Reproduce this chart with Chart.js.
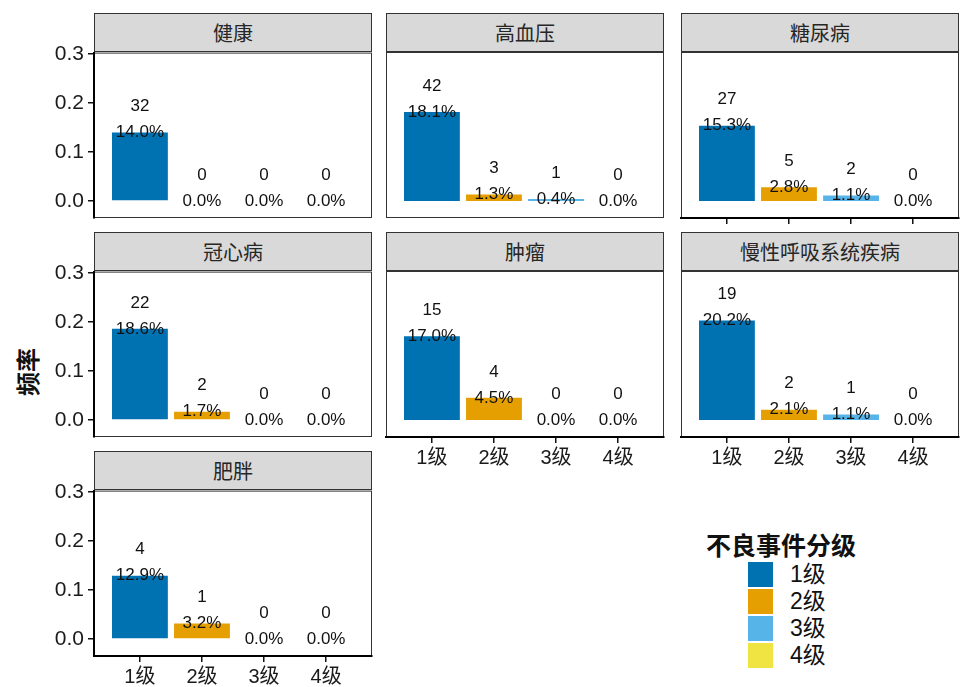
<!DOCTYPE html>
<html>
<head>
<meta charset="utf-8">
<script src="https://cdn.jsdelivr.net/npm/chart.js@4.4.1/dist/chart.umd.min.js"></script>
<style>
  body { margin: 0; background: #fff; width: 963px; height: 687px; position: relative; overflow: hidden;
         font-family: 'Liberation Sans', 'Noto Sans CJK SC', sans-serif; }
  .strip { position: absolute; box-sizing: border-box; background: #d9d9d9; border: 1px solid #333;
           text-align: center; font-size: 20px; line-height: 37px; color: #262626;
           font-family: 'Noto Sans CJK SC', sans-serif; }
  canvas { position: absolute; }
  #ytitle { position: absolute; left: 26px; top: 372px; transform: translate(-50%, -50%) rotate(-90deg);
            font-size: 24px; font-weight: bold; white-space: nowrap; font-family: 'Noto Sans CJK SC', sans-serif; color: #111; }
  #legend { position: absolute; left: 706px; top: 527px; }
  #legend .title { font-size: 25px; font-weight: bold; font-family: 'Noto Sans CJK SC', sans-serif; color: #111;
                   line-height: 34px; white-space: nowrap; }
  #legend .item { position: relative; height: 27px; margin-left: 42px; }
  #legend .key { position: absolute; left: 0; top: 1px; width: 25px; height: 25px; }
  #legend .lab { position: absolute; left: 42px; top: 0; font-size: 23px; line-height: 27px; color: #111; }
</style>
</head>
<body>
<div id="ytitle">频率</div>
<div id="legend"></div>
<script>
// --- DATA ---
const grades = ["1级", "2级", "3级", "4级"];
const gradeColors = ["#0072B2", "#E69F00", "#56B4E9", "#F0E442"];
const diseases = ["健康", "高血压", "糖尿病", "冠心病", "肿瘤", "慢性呼吸系统疾病", "肥胖"];
const counts = [
  [32, 0, 0, 0],
  [42, 3, 1, 0],
  [27, 5, 2, 0],
  [22, 2, 0, 0],
  [15, 4, 0, 0],
  [19, 2, 1, 0],
  [4, 1, 0, 0]
];
const percents = [
  [14.0, 0.0, 0.0, 0.0],
  [18.1, 1.3, 0.4, 0.0],
  [15.3, 2.8, 1.1, 0.0],
  [18.6, 1.7, 0.0, 0.0],
  [17.0, 4.5, 0.0, 0.0],
  [20.2, 2.1, 1.1, 0.0],
  [12.9, 3.2, 0.0, 0.0]
];
const yTicks = [0, 0.1, 0.2, 0.3];

// --- LAYOUT ---
const colLeft = [94, 386, 681];
const stripTop = [13, 232, 451];
const PW = 278, STRIP_H = 39, PH = 166;
const AX_W = 75, AX_H = 44, PAD = 16;
const FONT = "'Liberation Sans', 'Noto Sans CJK SC', sans-serif";

// frame around each panel
const framePlugin = {
  id: "frame",
  beforeDraw(chart) {
    const a = chart.chartArea, c = chart.ctx;
    c.save();
    c.strokeStyle = "#333";
    c.lineWidth = 1;
    c.strokeRect(a.left + 0.5, a.top + 0.5, a.right - a.left - 1, a.bottom - a.top - 1);
    c.restore();
  }
};

// count + percent labels above the bars
const labelPlugin = {
  id: "barLabels",
  afterDatasetsDraw(chart) {
    const i = chart.options.plugins.barLabels.panel;
    const xs = chart.scales.x, ys = chart.scales.y, c = chart.ctx;
    c.save();
    c.font = "17px " + FONT;
    c.fillStyle = "#111";
    c.textAlign = "center";
    c.textBaseline = "middle";
    percents[i].forEach((p, k) => {
      const x = xs.getPixelForValue(k + 1);
      const y = ys.getPixelForValue(p / 100);
      c.fillText(p.toFixed(1) + "%", x, y);
      c.fillText(String(counts[i][k]), x, y - 26);
    });
    c.restore();
  }
};

function makePanel(i) {
  const col = i % 3, row = Math.floor(i / 3);
  const left = colLeft[col], top = stripTop[row];
  const showY = col === 0;
  const showXLabels = i >= 4;
  const showXTicks = showXLabels || i === 2;

  const strip = document.createElement("div");
  strip.className = "strip";
  strip.style.left = left + "px";
  strip.style.top = top + "px";
  strip.style.width = PW + "px";
  strip.style.height = STRIP_H + "px";
  strip.textContent = diseases[i];
  document.body.appendChild(strip);

  const cv = document.createElement("canvas");
  cv.width = AX_W + PW + PAD;
  cv.height = PAD + PH + AX_H;
  cv.style.left = (left - AX_W) + "px";
  cv.style.top = (top + STRIP_H - PAD) + "px";
  document.body.appendChild(cv);

  new Chart(cv, {
    type: "bar",
    data: {
      datasets: [{
        data: percents[i].map((p, k) => ({ x: k + 1, y: p / 100 })),
        backgroundColor: gradeColors,
        borderWidth: 0,
        categoryPercentage: 0.9,
        barPercentage: 1
      }]
    },
    options: {
      responsive: false,
      animation: false,
      layout: { padding: { top: PAD, right: PAD, left: 0, bottom: 0 } },
      plugins: { legend: { display: false }, tooltip: { enabled: false }, barLabels: { panel: i } },
      scales: {
        x: {
          type: "linear",
          min: 0.26, max: 4.74,
          offset: false,
          afterBuildTicks: s => { s.ticks = [1, 2, 3, 4].map(v => ({ value: v })); },
          afterFit: s => { s.height = AX_H; },
          ticks: {
            display: showXLabels,
            autoSkip: false, maxRotation: 0,
            padding: 3,
            color: "#1a1a1a",
            font: { size: 20, family: FONT },
            callback: v => grades[v - 1]
          },
          grid: { display: showXTicks, drawOnChartArea: false, drawTicks: true, tickLength: 6,
                  color: "#111", lineWidth: 1.5, offset: false },
          border: { display: showXTicks, color: "#000", width: 2 }
        },
        y: {
          min: -0.0345, max: 0.3027,
          afterBuildTicks: s => { s.ticks = yTicks.map(v => ({ value: v })); },
          afterFit: s => { s.width = AX_W; },
          ticks: {
            display: showY,
            padding: 4,
            color: "#1a1a1a",
            font: { size: 21, family: FONT },
            callback: v => v.toFixed(1)
          },
          grid: { display: showY, drawOnChartArea: false, drawTicks: true, tickLength: 6,
                  color: "#111", lineWidth: 1.5 },
          border: { display: showY, color: "#000", width: 2 }
        }
      }
    },
    plugins: [framePlugin, labelPlugin]
  });
}

diseases.forEach((d, i) => makePanel(i));

// --- LEGEND ---
const legend = document.getElementById("legend");
legend.innerHTML = '<div class="title">不良事件分级</div>' +
  grades.map((g, k) =>
    `<div class="item"><div class="key" style="background:${gradeColors[k]}"></div><div class="lab">${g}</div></div>`
  ).join("");
</script>
</body>
</html>
